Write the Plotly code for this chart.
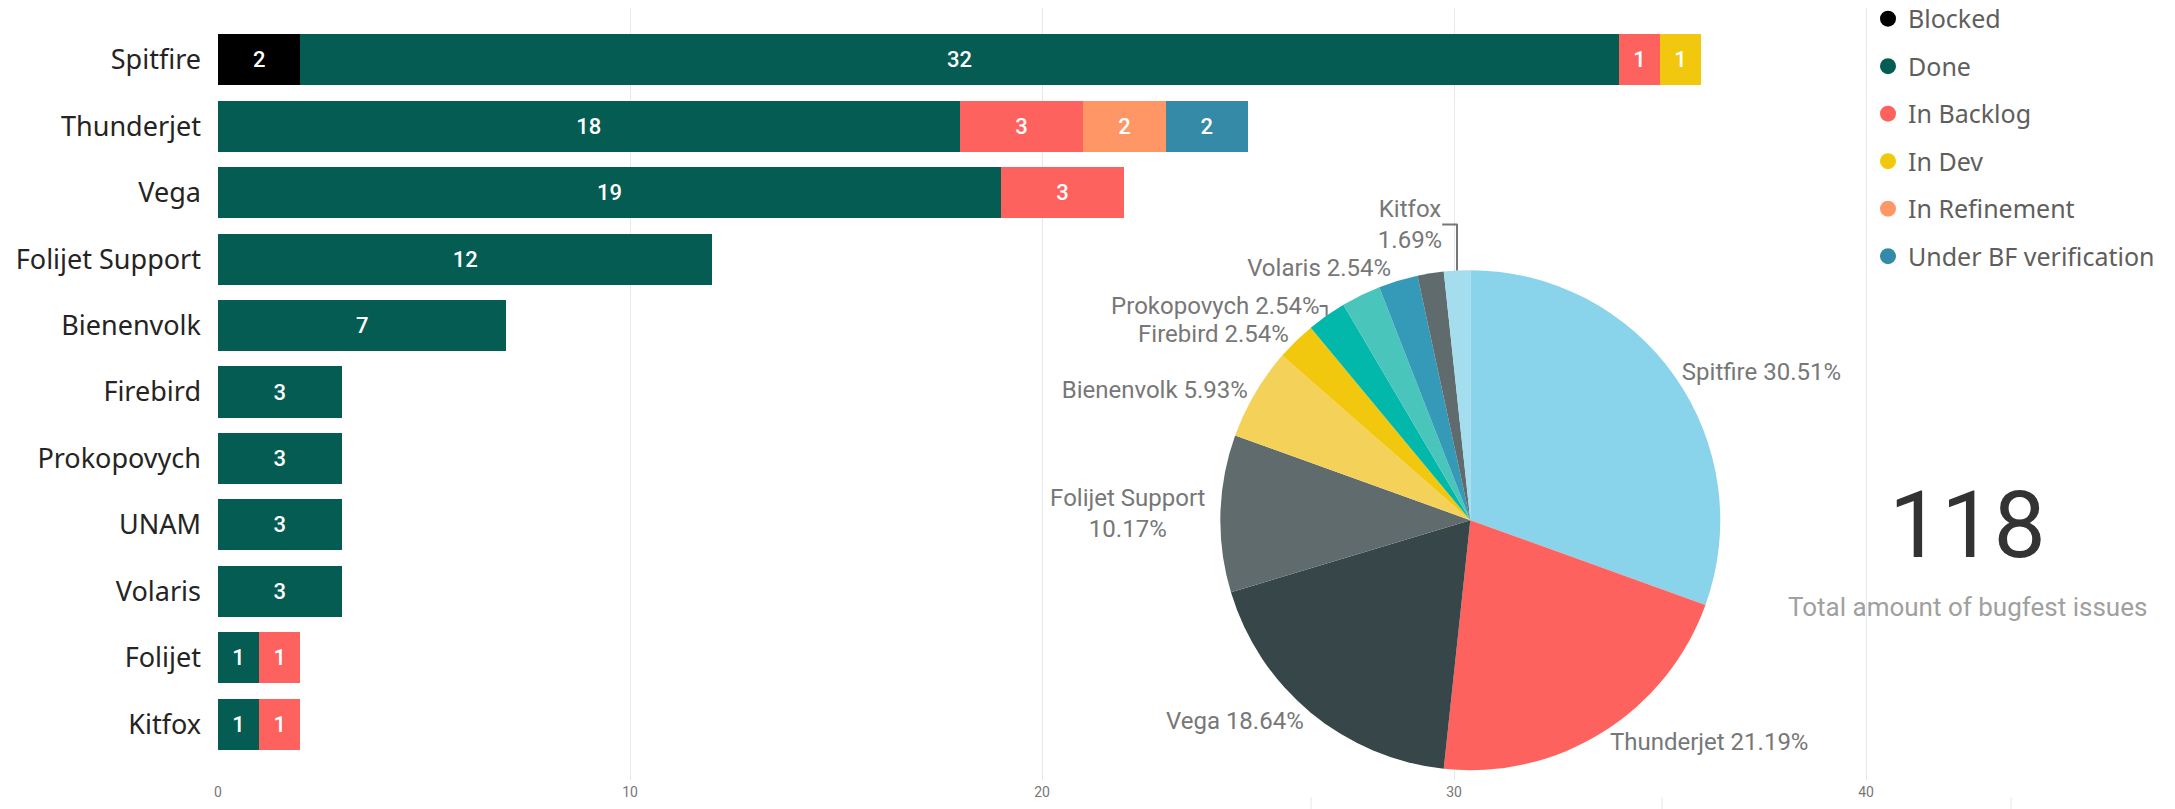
import plotly.graph_objects as go

# ---------------- data ----------------
teams = ["Spitfire", "Thunderjet", "Vega", "Folijet Support", "Bienenvolk", "Firebird",
         "Prokopovych", "UNAM", "Volaris", "Folijet", "Kitfox"]
statuses = ["Blocked", "Done", "In Backlog", "In Dev", "In Refinement", "Under BF verification"]
blocked = [2, 0, 0, 0, 0, 0, 0, 0, 0, 0, 0]
done = [32, 18, 19, 12, 7, 3, 3, 3, 3, 1, 1]
in_backlog = [1, 3, 3, 0, 0, 0, 0, 0, 0, 1, 1]
in_dev = [1, 0, 0, 0, 0, 0, 0, 0, 0, 0, 0]
in_refinement = [0, 2, 0, 0, 0, 0, 0, 0, 0, 0, 0]
under_bf = [0, 2, 0, 0, 0, 0, 0, 0, 0, 0, 0]
status_colors = ["#000000", "#045C53", "#FD625E", "#F2C80F", "#FE9666", "#348AA7"]

pie_labels = ["Spitfire", "Thunderjet", "Vega", "Folijet Support", "Bienenvolk", "Firebird",
              "Prokopovych", "UNAM", "Volaris", "Folijet", "Kitfox"]
pie_values = [36, 25, 22, 12, 7, 3, 3, 3, 3, 2, 2]
pie_colors = ["#8AD4EB", "#FD625E", "#374649", "#5F6B6D", "#F4D25A", "#F2C80F",
              "#01B8AA", "#4AC5BB", "#3599B8", "#5F6B6D", "#A4DDEE"]
pie_hidden_labels = ["UNAM", "Folijet"]
pie_two_line = ["Folijet Support", "Kitfox"]

x_ticks = [0, 10, 20, 30, 40]
total_label = "Total amount of bugfest issues"

# ---------------- figure ----------------
W, H = 2175, 809
DIN = "Roboto, sans-serif"
SEGOE = "Segoe UI, Noto Sans, Open Sans, sans-serif"

fig = go.Figure()
series = [blocked, done, in_backlog, in_dev, in_refinement, under_bf]
for name, vals, col in zip(statuses, series, status_colors):
    fig.add_trace(go.Bar(
        y=teams, x=vals, orientation="h", name=name,
        marker=dict(color=col, line=dict(width=0)),
        width=0.77,
        text=[str(v) if v else "" for v in vals],
        textposition="inside", insidetextanchor="middle", textangle=0,
        textfont=dict(color="white", size=22, family=DIN, weight=500),
        constraintext="none",
        showlegend=False, hoverinfo="x+y+name",
    ))
    fig.add_trace(go.Scatter(
        x=[None], y=[None], mode="markers", name=name,
        marker=dict(color=col, size=16, symbol="circle"),
        legendgroup=name, showlegend=True,
    ))

total = sum(pie_values)
pie_text = []
for lab, v in zip(pie_labels, pie_values):
    pct = f"{100 * v / total:.2f}%"
    if lab in pie_hidden_labels:
        pie_text.append("")
    elif lab in pie_two_line:
        pie_text.append(f"{lab}<br>{pct}")
    else:
        pie_text.append(f"{lab} {pct}")

fig.add_trace(go.Pie(
    labels=pie_labels, values=pie_values, text=pie_text,
    textinfo="text", textposition="outside", sort=False, direction="clockwise",
    rotation=0,
    marker=dict(colors=pie_colors, line=dict(width=0)),
    outsidetextfont=dict(color="#777777", size=24, family=DIN),
    domain=dict(x=[0.556, 0.796], y=[0.048, 0.666]),
    showlegend=False, hole=0,
))

fig.add_annotation(x=1967 / W, y=1 - 525 / H, xref="paper", yref="paper",
                   xanchor="center", yanchor="middle",
                   text=str(total), showarrow=False,
                   font=dict(size=93, color="#333333", family=DIN))
fig.add_annotation(x=1967 / W, y=1 - 607 / H, xref="paper", yref="paper",
                   xanchor="center", yanchor="middle",
                   text=total_label, showarrow=False,
                   font=dict(size=26, color="#A0A0A0", family=DIN))

for px in [1311, 1662, 2011]:
    fig.add_shape(type="line", xref="paper", yref="paper",
                  x0=px / W, x1=px / W, y0=0, y1=12 / H,
                  line=dict(color="#E6E6E6", width=1))

x0px, x40px = 218, 1866
unit = (x40px - x0px) / 40
xmax = (W - x0px) / unit

fig.update_layout(
    width=W, height=H, barmode="stack",
    margin=dict(l=0, r=0, t=0, b=0, autoexpand=False),
    paper_bgcolor="white", plot_bgcolor="white",
    bargap=0.23,
    legend=dict(x=(1888 - 20) / W, y=1.005, xanchor="left", yanchor="top",
                font=dict(size=25, color="#605E5C", family=SEGOE),
                tracegroupgap=12, itemsizing="trace", bgcolor="rgba(0,0,0,0)"),
    xaxis=dict(domain=[x0px / W, 1.0], range=[0, xmax], tickvals=x_ticks,
               showgrid=True, gridcolor="#E8E8E8", gridwidth=1, zeroline=False,
               showline=False, ticks="", ticklabelstandoff=2, automargin=False,
               tickfont=dict(size=14, color="#777777", family=DIN)),
    yaxis=dict(domain=[1 - 780 / H, 1 - 8 / H], categoryorder="array",
               categoryarray=teams, range=[10.84, -0.78], showgrid=False,
               zeroline=False, showline=False, ticks="", ticklabelstandoff=16,
               automargin=False,
               tickfont=dict(size=27, color="#252423", family=SEGOE)),
)

fig.write_html(
    "out.html",
    config={"displayModeBar": False},
    post_script="document.body.style.margin='0';document.body.style.overflow='hidden';",
)
